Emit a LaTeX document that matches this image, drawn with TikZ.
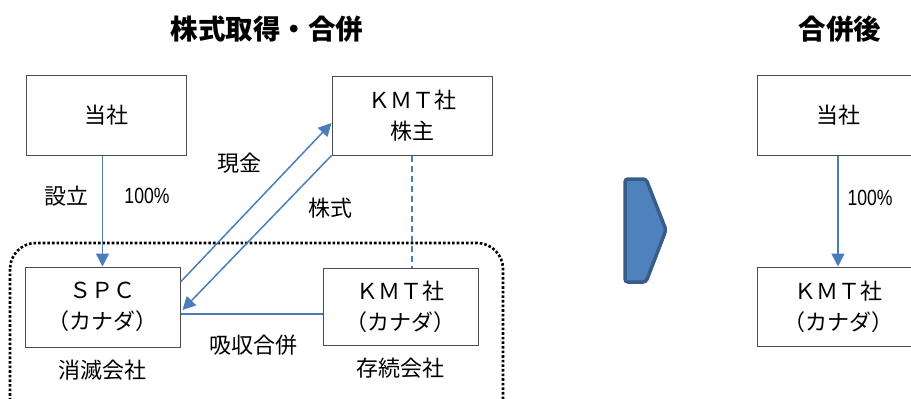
\documentclass[tikz,border=0pt]{standalone}
\usepackage{fontspec}
\usepackage{graphicx}
\setmainfont{Noto Sans CJK JP}
\newfontfamily\numfont{Liberation Sans}
\usetikzlibrary{arrows.meta,calc}
\definecolor{linkblue}{HTML}{4A7EBB}
\definecolor{chevfill}{HTML}{4F81BD}
\definecolor{chevline}{HTML}{385D8A}
\tikzset{
  box/.style={draw=black!70, line width=1pt, fill=white, align=center,
    font=\fontsize{22}{31}\selectfont, inner sep=0pt},
  lbl/.style={font=\fontsize{22}{24}\selectfont, inner sep=0pt},
  ttl/.style={font=\fontsize{27.5}{30}\selectfont\bfseries, inner sep=0pt},
  pct/.style={font=\fontsize{22}{24}\selectfont\numfont, inner sep=0pt},
  arr/.style={draw=linkblue, line width=1.5pt, -{Triangle[length=13pt,width=13pt]}},
  lnk/.style={draw=linkblue, line width=1.5pt},
  dlnk/.style={draw=linkblue, line width=1.3pt, dash pattern=on 6pt off 4pt},
}
\begin{document}
\begin{tikzpicture}[x=1pt,y=-1pt]
\useasboundingbox (0,0) rectangle (911,399);
% titles
\node[ttl] (t1) at (267,29) {株式取得・合併};
\node[ttl] (t2) at (840,29) {合併後};
% dotted group
\draw[line width=2.6pt, dotted, rounded corners=26pt] (10,243) rectangle (503,430);
% boxes
\node[box, minimum width=160pt, minimum height=80pt] (tousha) at (106,115) {当社};
\node[box, minimum width=160pt, minimum height=79pt] (kmtsh) at (412,115.5) {ＫＭＴ社\\株主};
\node[box, minimum width=155pt, minimum height=80pt] (spc) at (102.5,307) {ＳＰＣ\\（カナダ）};
\node[box, minimum width=155pt, minimum height=77pt] (kmtca) at (400.5,306.5) {ＫＭＴ社\\（カナダ）};
\node[box, minimum width=162pt, minimum height=80pt] (tousha2) at (838,115) {当社};
\node[box, minimum width=162pt, minimum height=79pt] (kmtca2) at (838,306.5) {ＫＭＴ社\\（カナダ）};
% connectors
\draw[arr] (spc.north |- tousha.south) -- (spc.north);
\draw[arr] (spc.east |- 0,282) -- (kmtsh.west |- 0,123);
\draw[arr] (kmtsh.south west) -- ($(spc.east |- 0,310)+(2,0)$);
\draw[dlnk] (kmtsh.south) -- (kmtsh.south |- kmtca.north);
\draw[lnk] (spc.east |- 0,314) -- (kmtca.west |- 0,314);
\draw[arr] (tousha2.south) -- (kmtca2.north);
% labels
\node[lbl] (l1) at (66,196) {設立};
\node[pct] (l2) at (147,196) {\scalebox{0.8}[1]{100\%}};
\node[lbl] (l3) at (239,163) {現金};
\node[lbl] (l4) at (330,208) {株式};
\node[lbl] (l5) at (253,345) {吸収合併};
\node[lbl] (l6) at (102,370) {消滅会社};
\node[lbl] (l7) at (400,368) {存続会社};
\node[pct] (l8) at (870,198) {\scalebox{0.8}[1]{100\%}};
% chevron
\draw[fill=chevfill, draw=chevline, line width=3.5pt, rounded corners=3pt]
  (625,179) -- (646,179) -- (666,230) -- (646,282) -- (625,282) -- cycle;
\end{tikzpicture}
\end{document}
